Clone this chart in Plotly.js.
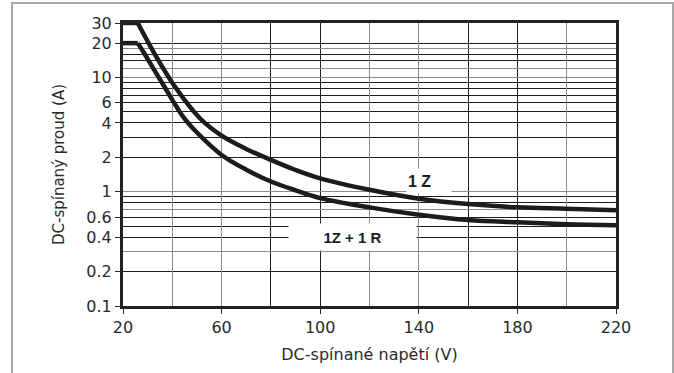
<!DOCTYPE html>
<html>
<head>
<meta charset="utf-8">
<script src="https://cdn.plot.ly/plotly-3.0.1.min.js"></script>
<style>
  html, body { margin: 0; padding: 0; background: #ffffff; }
  #wrap { position: relative; width: 674px; height: 373px; overflow: hidden; }
  #chart { position: absolute; left: 0; top: 0; width: 674px; height: 373px; }
  #frame { position: absolute; left: 11px; top: 2px; width: 659px; height: 400px;
           border: 2px solid #a8a8a8; border-bottom: none; pointer-events: none; }
</style>
</head>
<body>
<div id="wrap">
  <div id="chart"></div>
  <div id="frame"></div>
</div>
<script>
// ---- data ----
const voltage1Z = [20, 26, 32.7, 41.1, 51.2, 60, 70, 80, 90, 100, 120, 140, 160, 180, 200, 220];
const current1Z = [30, 30, 16.3, 8.3, 4.4, 3.1, 2.37, 1.9, 1.55, 1.31, 1.04, 0.87, 0.78, 0.73, 0.71, 0.69];

const voltage1Z1R = [20, 26, 28.6, 36.8, 44.5, 50, 60, 70, 80, 90, 100, 120, 140, 160, 180, 200, 220];
const current1Z1R = [20, 20, 16.3, 8.3, 4.5, 3.3, 2.1, 1.56, 1.23, 1.03, 0.88, 0.73, 0.63, 0.565, 0.54, 0.52, 0.51];

const xTickVals = [20, 60, 100, 140, 180, 220];
const xGridDark = [80, 100, 160, 180];
const xGridGray = [40, 60, 120, 140, 200];

const yTickVals = [0.1, 0.2, 0.4, 0.6, 1, 2, 4, 6, 10, 20, 30];
const yTickText = ['0.1', '0.2', '0.4', '0.6', '1', '2', '4', '6', '10', '20', '30'];
const yGridDark = [0.2, 0.4, 0.5, 0.6, 0.8, 0.9, 2, 3, 4, 5, 6, 7, 8, 9, 14, 16, 20];
const yGridGray = [0.3, 0.7, 1, 10, 12, 18];

const label1Z = '1 Z';
const label1Z1R = '1Z + 1 R';
const xTitle = 'DC-spínané napětí (V)';
const yTitle = 'DC-spínaný proud (A)';

const xRange = [20, 220];
const yRange = [Math.log10(0.1), Math.log10(30)];

const lineColor = '#1c1c1c';
const tickFont = { family: 'DejaVu Sans', size: 16, color: '#2a2a2a' };

// each series: flat limiting part (straight) + falling part (smooth)
function seriesTraces(xs, ys) {
  return [
    { x: xs.slice(0, 2), y: ys.slice(0, 2), xaxis: 'x', yaxis: 'y', mode: 'lines',
      line: { color: lineColor, width: 4.5 }, hoverinfo: 'skip', showlegend: false },
    { x: xs.slice(1), y: ys.slice(1), xaxis: 'x', yaxis: 'y', mode: 'lines',
      line: { color: lineColor, width: 4.5, shape: 'spline', smoothing: 1.0 },
      hoverinfo: 'skip', showlegend: false }
  ];
}

const traces = [].concat(
  seriesTraces(voltage1Z, current1Z),
  seriesTraces(voltage1Z1R, current1Z1R),
  [{ x: [], y: [], xaxis: 'x2', yaxis: 'y2', mode: 'lines', hoverinfo: 'skip', showlegend: false }]
);

const layout = {
  width: 674, height: 373,
  margin: { l: 123, r: 58, t: 23, b: 67 },
  paper_bgcolor: 'rgba(0,0,0,0)',
  plot_bgcolor: '#ffffff',
  showlegend: false,
  xaxis: {
    range: xRange, tickmode: 'array', tickvals: xTickVals,
    ticks: 'outside', ticklen: 5, tickwidth: 1, tickcolor: '#2a2a2a',
    tickfont: tickFont, showgrid: false, zeroline: false,
    showline: true, linewidth: 3, linecolor: '#222222', mirror: true,
    minor: { tickmode: 'array', tickvals: xGridDark, showgrid: true,
             gridcolor: '#1e1e1e', gridwidth: 1, ticks: '' },
    title: { text: xTitle, font: { family: 'DejaVu Sans', size: 16, color: '#2a2a2a' }, standoff: 13 }
  },
  yaxis: {
    type: 'log', range: yRange, tickmode: 'array', tickvals: yTickVals, ticktext: yTickText,
    ticks: 'outside', ticklen: 5, tickwidth: 1, tickcolor: '#2a2a2a',
    tickfont: tickFont, showgrid: false, zeroline: false,
    showline: true, linewidth: 3, linecolor: '#222222', mirror: true,
    minor: { tickmode: 'array', tickvals: yGridDark, showgrid: true,
             gridcolor: '#1e1e1e', gridwidth: 1, ticks: '' },
    title: { text: yTitle, font: { family: 'DejaVu Sans', size: 15, color: '#2a2a2a' }, standoff: 19 }
  },
  xaxis2: {
    overlaying: 'x', anchor: 'y2', range: xRange, tickmode: 'array', tickvals: xGridGray,
    showticklabels: false, ticks: '', showgrid: true, gridcolor: '#8c8c8c', gridwidth: 1,
    zeroline: false, showline: false
  },
  yaxis2: {
    overlaying: 'y', anchor: 'x2', type: 'log', range: yRange, tickmode: 'array', tickvals: yGridGray,
    showticklabels: false, ticks: '', showgrid: true, gridcolor: '#8c8c8c', gridwidth: 1,
    zeroline: false, showline: false
  },
  annotations: [
    { x: 144.1, y: Math.log10(1.23), xref: 'x', yref: 'y', text: label1Z, showarrow: false,
      font: { family: 'Liberation Sans', size: 16, color: '#1c1c1c', weight: 'bold' },
      bgcolor: '#ffffff', width: 42, height: 22, align: 'left' },
    { x: 113.3, y: Math.log10(0.4), xref: 'x', yref: 'y', text: label1Z1R, showarrow: false,
      font: { family: 'Liberation Sans', size: 15, color: '#1c1c1c', weight: 'bold' },
      bgcolor: '#ffffff', width: 125, height: 24 }
  ]
};

Plotly.newPlot('chart', traces, layout, { staticPlot: true, displayModeBar: false });
</script>
</body>
</html>
